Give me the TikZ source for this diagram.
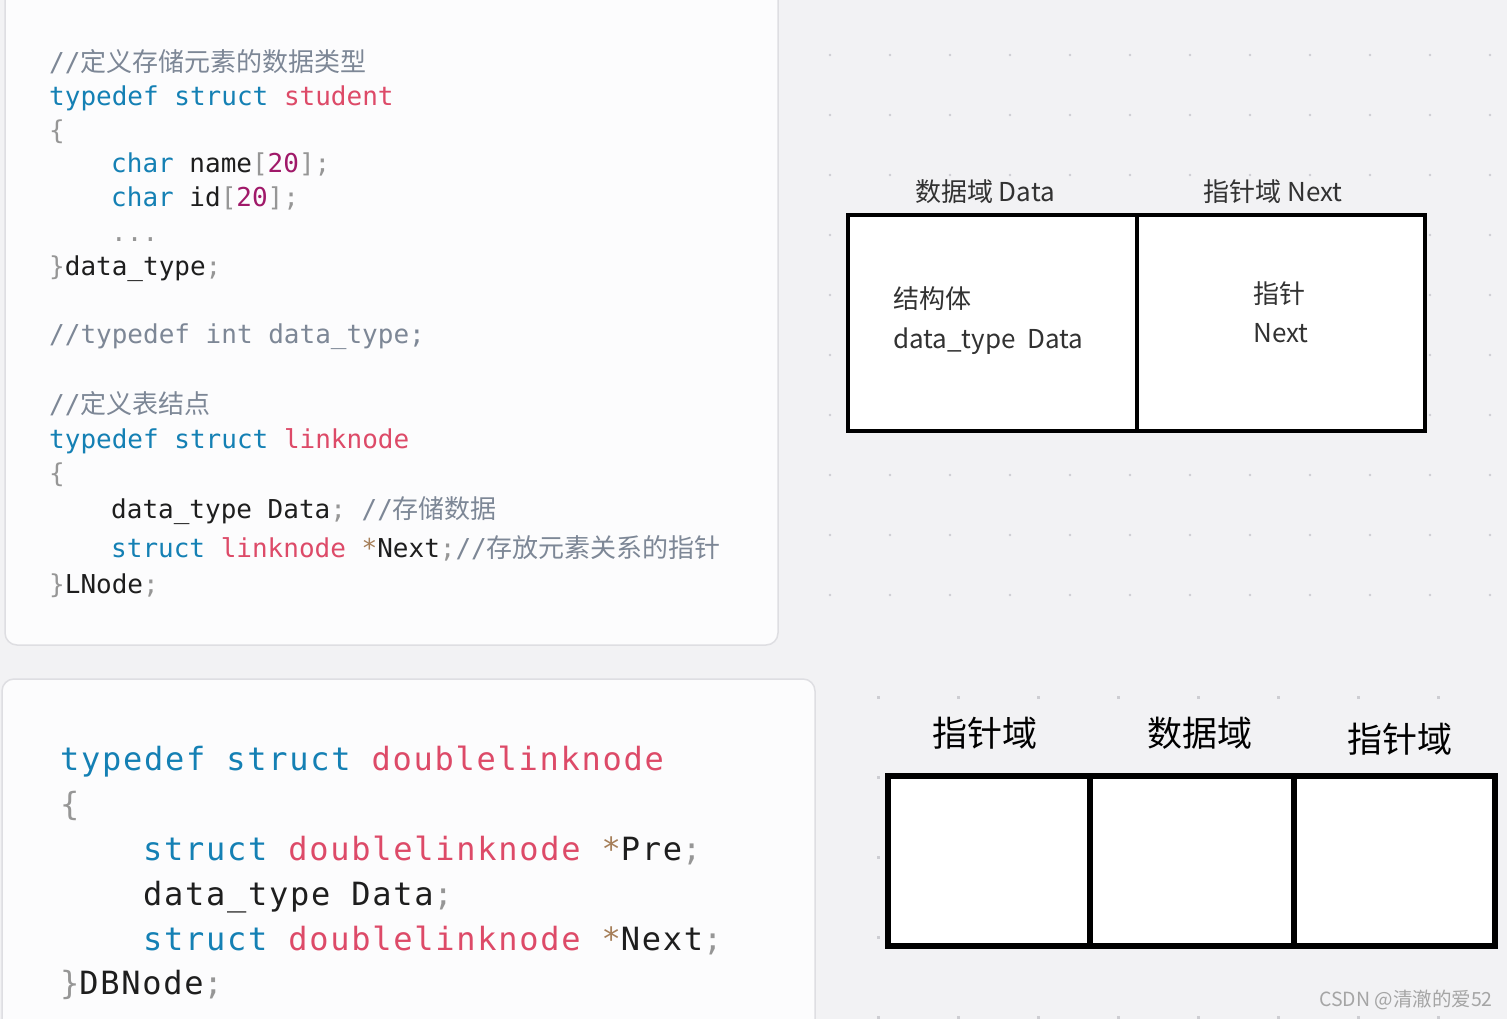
\documentclass[tikz,border=0pt]{standalone}
\usepackage{fontspec}
\usepackage{tikz}
\usetikzlibrary{positioning}
\newfontfamily\codefont{DejaVu Sans Mono}
\newfontfamily\bigcodefont[LetterSpace=5.4]{DejaVu Sans Mono}
\newfontfamily\cjk{Noto Sans CJK SC}
\definecolor{pagebg}{RGB}{242,242,244}
\definecolor{panelbg}{RGB}{252,252,253}
\definecolor{panelline}{RGB}{222,222,226}
\definecolor{dotgray}{RGB}{205,205,210}
\definecolor{kwblue}{RGB}{20,128,180}
\definecolor{tyred}{RGB}{221,74,104}
\definecolor{nummag}{RGB}{160,25,105}
\definecolor{pungray}{RGB}{150,150,150}
\definecolor{cmtgray}{RGB}{125,135,150}
\definecolor{starbrown}{RGB}{166,127,89}
\definecolor{codeblack}{RGB}{30,30,30}
\definecolor{labelgray}{RGB}{50,50,50}
\definecolor{markgray}{RGB}{165,165,165}
\newcommand{\ckw}[1]{\textcolor{kwblue}{#1}}
\newcommand{\cty}[1]{\textcolor{tyred}{#1}}
\newcommand{\cnum}[1]{\textcolor{nummag}{#1}}
\newcommand{\cpun}[1]{\textcolor{pungray}{#1}}
\newcommand{\ccmt}[1]{\textcolor{cmtgray}{#1}}
\newcommand{\cstar}[1]{\textcolor{starbrown}{#1}}
\newcommand{\zh}[1]{{\cjk #1}}

\begin{document}
\begin{tikzpicture}[
    x=1pt, y=-1pt,
    panel/.style={draw=panelline, fill=panelbg, line width=1.5pt, rounded corners=12pt},
    code/.style={anchor=base west, inner sep=0pt, font=\codefont\fontsize{26}{30}\selectfont, text=codeblack},
    bigcode/.style={code, font=\bigcodefont\fontsize{32}{38}\selectfont},
    cell/.style={rectangle, draw=black, fill=white, line width=3.5pt, outer sep=0pt, inner sep=0pt, minimum height=216pt},
    bigcell/.style={cell, line width=5.5pt, minimum height=170pt},
    hdr/.style={anchor=base, inner sep=0pt, font=\cjk\fontsize{26}{30}\selectfont, text=labelgray},
    bighdr/.style={anchor=center, inner sep=0pt, font=\cjk\fontsize{35}{40}\selectfont, text=black},
    celltext/.style={anchor=base west, inner sep=0pt, font=\cjk\fontsize{26}{30}\selectfont, text=labelgray},
]
    \useasboundingbox (0,0) rectangle (1507,1019);
    \fill[pagebg] (0,0) rectangle (1507,1019);
    \clip (0,0) rectangle (1507,1019);

    \foreach \x in {830,890,...,1490}
        \foreach \y in {55,115,...,595}
            \fill[dotgray] (\x,\y) circle (1.3pt);
    \foreach \x in {878,958,...,1438}
        \foreach \y in {697,777,...,1017}
            \fill[dotgray] (\x-1.5,\y-1.5) rectangle (\x+1.5,\y+1.5);

    \draw[panel] (5,-20) rectangle (778,645);
    \draw[panel] (2,679) rectangle (815,1040);

    \node[code] (cmt1) at (49,72) {\ccmt{//\zh{定义存储元素的数据类型}}};
    \node[code] (head1) at (49,106) {\ckw{typedef struct} \cty{student}};
    \node[code] (open1) at (49,140) {\cpun{\{}};
    \node[code] (name1) at (111,173) {\ckw{char} name\cpun{[}\cnum{20}\cpun{];}};
    \node[code] (id1) at (111,207) {\ckw{char} id\cpun{[}\cnum{20}\cpun{];}};
    \node[code] (dots1) at (111,241) {\cpun{...}};
    \node[code] (close1) at (49,275) {\cpun{\}}data\_type\cpun{;}};
    \node[code] (cmt2) at (49,343) {\ccmt{//typedef int data\_type;}};
    \node[code] (cmt3) at (49,413) {\ccmt{//\zh{定义表结点}}};
    \node[code] (head2) at (49,448) {\ckw{typedef struct} \cty{linknode}};
    \node[code] (open2) at (49,482) {\cpun{\{}};
    \node[code] (data2) at (111,518) {data\_type Data\cpun{;} \ccmt{//\zh{存储数据}}};
    \node[code] (next2) at (111,557) {\ckw{struct} \cty{linknode} \cstar{*}Next\cpun{;}\ccmt{//\zh{存放元素关系的指针}}};
    \node[code] (close2) at (49,593) {\cpun{\}}LNode\cpun{;}};

    \node[bigcode] (head3) at (60,770) {\ckw{typedef struct} \cty{doublelinknode}};
    \node[bigcode] (open3) at (60,815) {\cpun{\{}};
    \node[bigcode] (pre3) at (143,860) {\ckw{struct} \cty{doublelinknode} \cstar{*}Pre\cpun{;}};
    \node[bigcode] (data3) at (143,905) {data\_type Data\cpun{;}};
    \node[bigcode] (next3) at (143,950) {\ckw{struct} \cty{doublelinknode} \cstar{*}Next\cpun{;}};
    \node[bigcode] (close3) at (60,994) {\cpun{\}}DBNode\cpun{;}};

    \node[cell, minimum width=289pt] (datacell) at (992.5,323) {};
    \node[cell, minimum width=288pt, right=0pt of datacell] (nextcell) {};
    \node[hdr] (datahdr) at (985,202) {数据域 Data};
    \node[hdr] (nexthdr) at (1273,202) {指针域 Next};
    \node[celltext] (structtxt) at (893,308) {结构体};
    \node[celltext] (datatxt) at (893,348) {data\_type\ \ Data};
    \node[celltext] (ptrtxt) at (1253,303) {指针};
    \node[celltext] (nexttxt) at (1253,342) {Next};

    \node[bigcell, minimum width=202pt] (precell) at (989,861) {};
    \node[bigcell, minimum width=204pt, right=0pt of precell] (midcell) {};
    \node[bigcell, minimum width=201pt, right=0pt of midcell] (postcell) {};
    \node[bighdr] (prehdr) at (985,733) {指针域};
    \node[bighdr] (midhdr) at (1200,733) {数据域};
    \node[bighdr] (posthdr) at (1400,739) {指针域};

    \node[anchor=east, inner sep=0pt, font=\cjk\fontsize{19.5}{22}\selectfont, text=markgray] (mark) at (1493,1000) {CSDN @清澈的爱52};
\end{tikzpicture}
\end{document}
